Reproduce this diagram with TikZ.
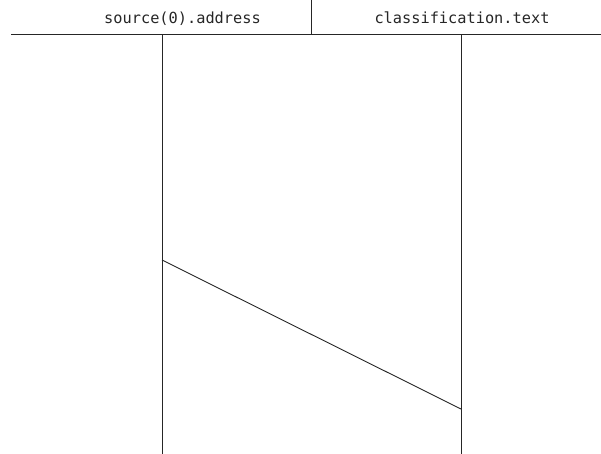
\documentclass[tikz,border=0pt]{standalone}
\usepackage{fontspec}
\newfontfamily\monofont{DejaVu Sans Mono}
\begin{document}
\begin{tikzpicture}[x=1pt,y=-1pt,
  rule/.style={line width=1pt,black!85},
  hdr/.style={font=\monofont\fontsize{15.3}{18}\selectfont,inner sep=0pt,anchor=base,text=black!85}]
\useasboundingbox (0,0) rectangle (601,454);
\node[hdr] (ta) at (182.5,24) {source(0).address};
\node[hdr] (tb) at (462,24) {classification.text};
\coordinate (hl) at (11,35);
\coordinate (hr) at (601,35);
\coordinate (dtop) at (311,0);
\coordinate (dbot) at (311,35);
\coordinate (atop) at (162,35);
\coordinate (abot) at (162,454);
\coordinate (btop) at (461,35);
\coordinate (bbot) at (461,454);
\coordinate (ma) at (162,260);
\coordinate (mb) at (461,409);
\draw[rule] (hl) -- (hr);
\draw[rule] (dtop) -- (dbot);
\draw[rule] (atop) -- (abot);
\draw[rule] (btop) -- (bbot);
\draw[rule,line width=0.9pt] (ma) -- (mb);
\end{tikzpicture}
\end{document}
